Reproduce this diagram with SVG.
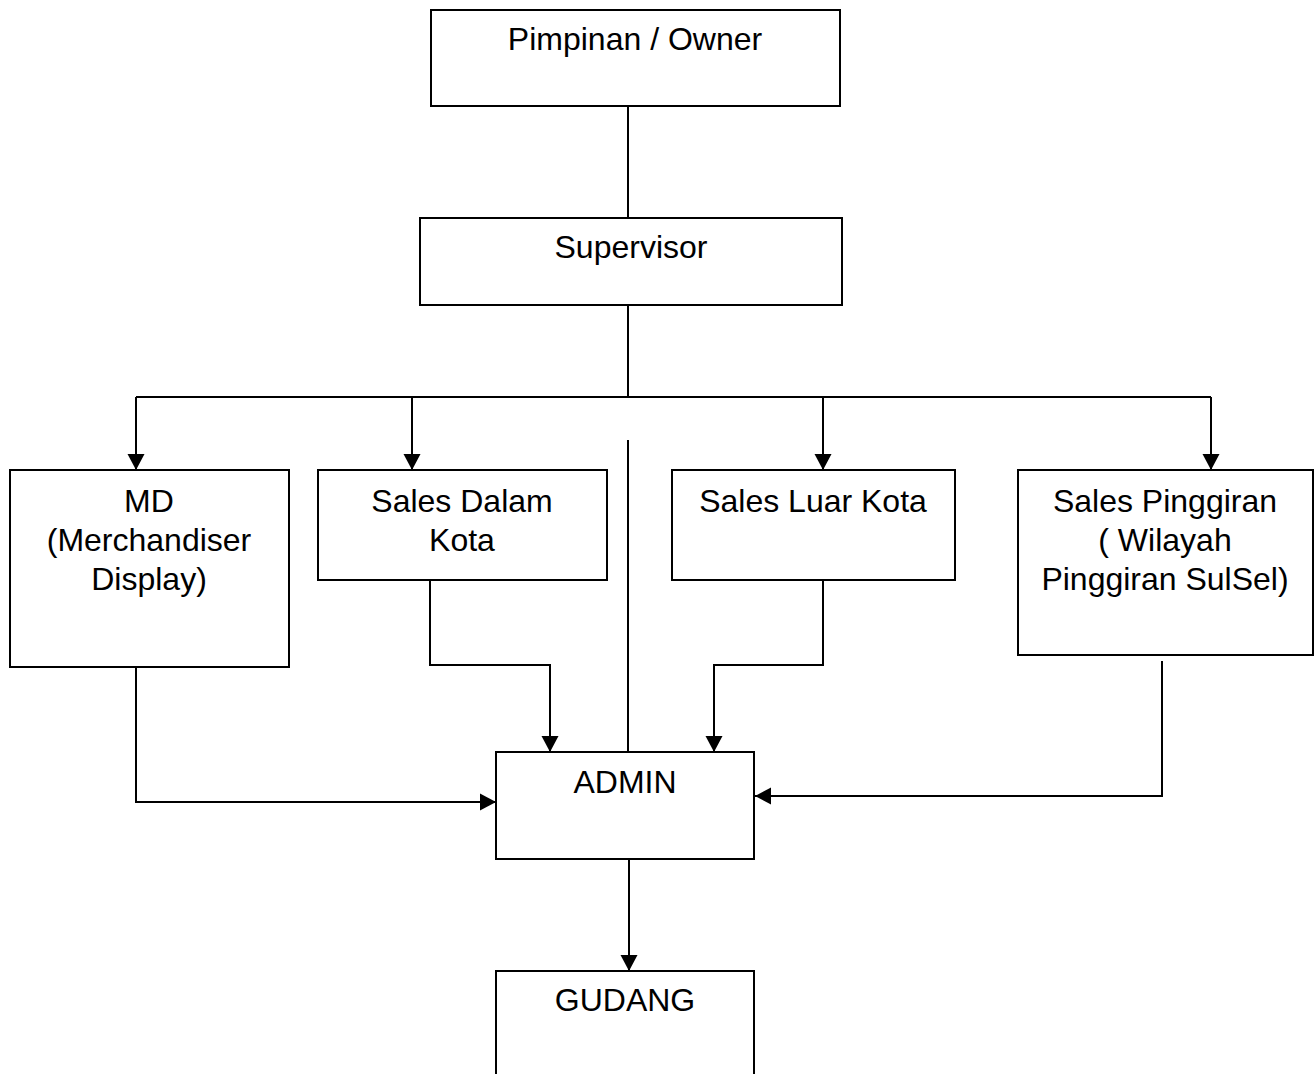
<svg xmlns="http://www.w3.org/2000/svg" width="1316" height="1074" viewBox="0 0 1316 1074">
<style>
.box{fill:#fff;stroke:#000;stroke-width:2}
.t{font-family:"Liberation Sans",Arial,sans-serif;font-size:32px;fill:#000;text-anchor:middle}
.c{fill:none;stroke:#000;stroke-width:2}
</style>
<defs>
<marker id="ah" markerUnits="userSpaceOnUse" markerWidth="17" markerHeight="18" refX="16" refY="9" orient="auto">
<path d="M0,0.5 L16,9 L0,17.5 z" fill="#000"/>
</marker>
</defs>
<rect width="1316" height="1074" fill="#fff"/>
<g id="connectors">
<path class="c" d="M628,106 V218"/>
<path class="c" d="M628,306 V397"/>
<path class="c" d="M136,397 H1211"/>
<path class="c" d="M136,397 V470" marker-end="url(#ah)"/>
<path class="c" d="M412,397 V470" marker-end="url(#ah)"/>
<path class="c" d="M823,397 V470" marker-end="url(#ah)"/>
<path class="c" d="M1211,397 V470" marker-end="url(#ah)"/>
<path class="c" d="M628,440 V752"/>
<path class="c" d="M430,581 V665 H550 V752" marker-end="url(#ah)"/>
<path class="c" d="M823,581 V665 H714 V752" marker-end="url(#ah)"/>
<path class="c" d="M136,667 V802 H496" marker-end="url(#ah)"/>
<path class="c" d="M1162,661 V796 H755" marker-end="url(#ah)"/>
<path class="c" d="M629,859 V971" marker-end="url(#ah)"/>
</g>
<g id="pimpinan"><rect class="box" x="431" y="10" width="409" height="96"/><text class="t" x="635" y="50">Pimpinan / Owner</text></g>
<g id="supervisor"><rect class="box" x="420" y="218" width="422" height="87"/><text class="t" x="631" y="258">Supervisor</text></g>
<g id="md"><rect class="box" x="10" y="470" width="279" height="197"/><text class="t" x="149" y="512">MD</text><text class="t" x="149" y="551">(Merchandiser</text><text class="t" x="149" y="590">Display)</text></g>
<g id="sales-dalam"><rect class="box" x="318" y="470" width="289" height="110"/><text class="t" x="462" y="512">Sales Dalam</text><text class="t" x="462" y="551">Kota</text></g>
<g id="sales-luar"><rect class="box" x="672" y="470" width="283" height="110"/><text class="t" x="813" y="512">Sales Luar Kota</text></g>
<g id="sales-pinggiran"><rect class="box" x="1018" y="470" width="295" height="185"/><text class="t" x="1165" y="512">Sales Pinggiran</text><text class="t" x="1165" y="551">( Wilayah</text><text class="t" x="1165" y="590">Pinggiran SulSel)</text></g>
<g id="admin"><rect class="box" x="496" y="752" width="258" height="107"/><text class="t" x="625" y="793">ADMIN</text></g>
<g id="gudang"><rect class="box" x="496" y="971" width="258" height="130"/><text class="t" x="625" y="1011">GUDANG</text></g>
</svg>
